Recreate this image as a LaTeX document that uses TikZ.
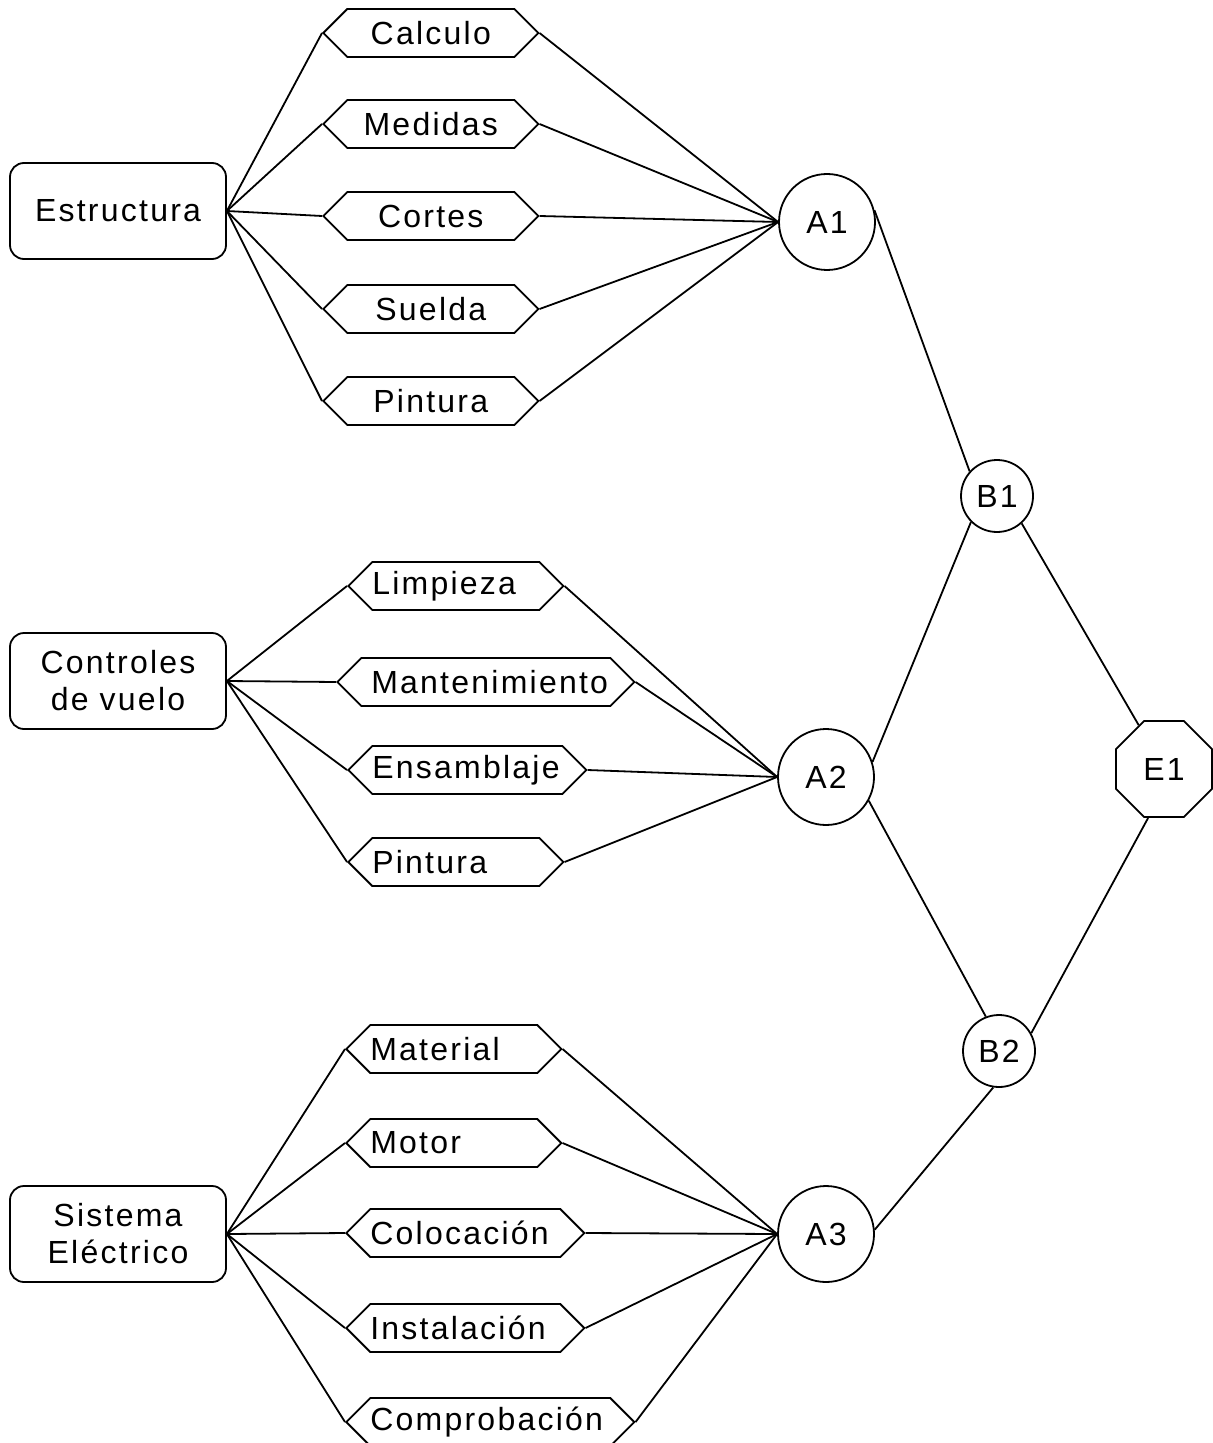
\documentclass[tikz,border=0pt]{standalone}
\usepackage{fontspec}
\setmainfont{Liberation Sans}[LetterSpace=7]
\usepackage{tikz}
\usetikzlibrary{shapes.symbols,shapes.geometric}

\tikzstyle{sistema} = [draw=black, line width=0.9pt, rectangle, rounded corners=7pt,
    minimum width=108pt, minimum height=48pt, align=center]
\tikzstyle{tarea} = [draw=black, line width=0.9pt, signal, signal to=east and west,
    signal pointer angle=90, minimum height=24pt, inner xsep=0pt, inner ysep=0pt,
    anchor=west, align=left]
\tikzstyle{evento} = [draw=black, line width=0.9pt, circle, inner sep=0pt, minimum size=48pt]
\tikzstyle{hito} = [draw=black, line width=0.9pt, circle, inner sep=0pt, minimum size=36pt]
\tikzstyle{final} = [draw=black, line width=0.9pt, regular polygon, regular polygon sides=8,
    inner sep=0pt, minimum size=52pt]
\tikzstyle{enlace} = [line width=0.9pt]

\begin{document}
\begin{tikzpicture}[x=0.5pt, y=-0.5pt, every node/.style={font=\fontsize{16}{18.5}\selectfont}]
    \useasboundingbox (0,0) rectangle (1212,1443);

    % sistemas
    \node[sistema] (est) at (118,211) {Estructura};
    \node[sistema] (con) at (118,681) {Controles\\de vuelo};
    \node[sistema] (sis) at (118,1234) {Sistema\\Eléctrico};

    % tareas de la estructura
    \node[tarea, text width=83.5pt, align=center] (calc) at (322,33) {Calculo};
    \node[tarea, text width=83.5pt, align=center] (med) at (322,124) {Medidas};
    \node[tarea, text width=83.5pt, align=center] (cort) at (322,216) {Cortes};
    \node[tarea, text width=83.5pt, align=center] (sold) at (322,309) {Suelda};
    \node[tarea, text width=83.5pt, align=center] (pint1) at (322,401) {Pintura};

    % tareas de los controles
    \node[tarea, text width=83.5pt] (limp) at (347,586) {Limpieza};
    \node[tarea, text width=114.5pt, inner xsep=5pt] (mant) at (336,682) {Mantenimiento};
    \node[tarea, text width=95pt] (ens) at (347,770) {Ensamblaje};
    \node[tarea, text width=83.5pt] (pint2) at (347,862) {Pintura};

    % tareas del sistema electrico
    \node[tarea, text width=83.5pt] (mat) at (345,1049) {Material};
    \node[tarea, text width=83.5pt] (mot) at (345,1143) {Motor};
    \node[tarea, text width=95pt] (col) at (345,1233) {Colocación};
    \node[tarea, text width=95pt] (inst) at (345,1328) {Instalación};
    \node[tarea, text width=120pt] (comp) at (345,1422) {Comprobación};

    % eventos
    \node[evento] (a1) at (827,222) {A1};
    \node[evento] (a2) at (826,777) {A2};
    \node[evento] (a3) at (826,1234) {A3};
    \node[hito] (b1) at (997,496) {B1};
    \node[hito] (b2) at (999,1051) {B2};
    \node[final] (e1) at (1164,769) {E1};

    \foreach \t in {calc,med,cort,sold,pint1}
        \draw[enlace] (est.east) -- (\t.west) (\t.east) -- (a1.west);
    \foreach \t in {limp,mant,ens,pint2}
        \draw[enlace] (con.east) -- (\t.west) (\t.east) -- (a2.west);
    \foreach \t in {mat,mot,col,inst,comp}
        \draw[enlace] (sis.east) -- (\t.west) (\t.east) -- (a3.west);

    \draw[enlace] (a1.14) -- (b1.138);
    \draw[enlace] (a2.18) -- (b1.225);
    \draw[enlace] (a2.331) -- (b2.111);
    \draw[enlace] (a3.5) -- (b2.261);
    \draw[enlace] (b1.312) -- (e1.120);
    \draw[enlace] (b2.29) -- (e1.252);
\end{tikzpicture}
\end{document}
